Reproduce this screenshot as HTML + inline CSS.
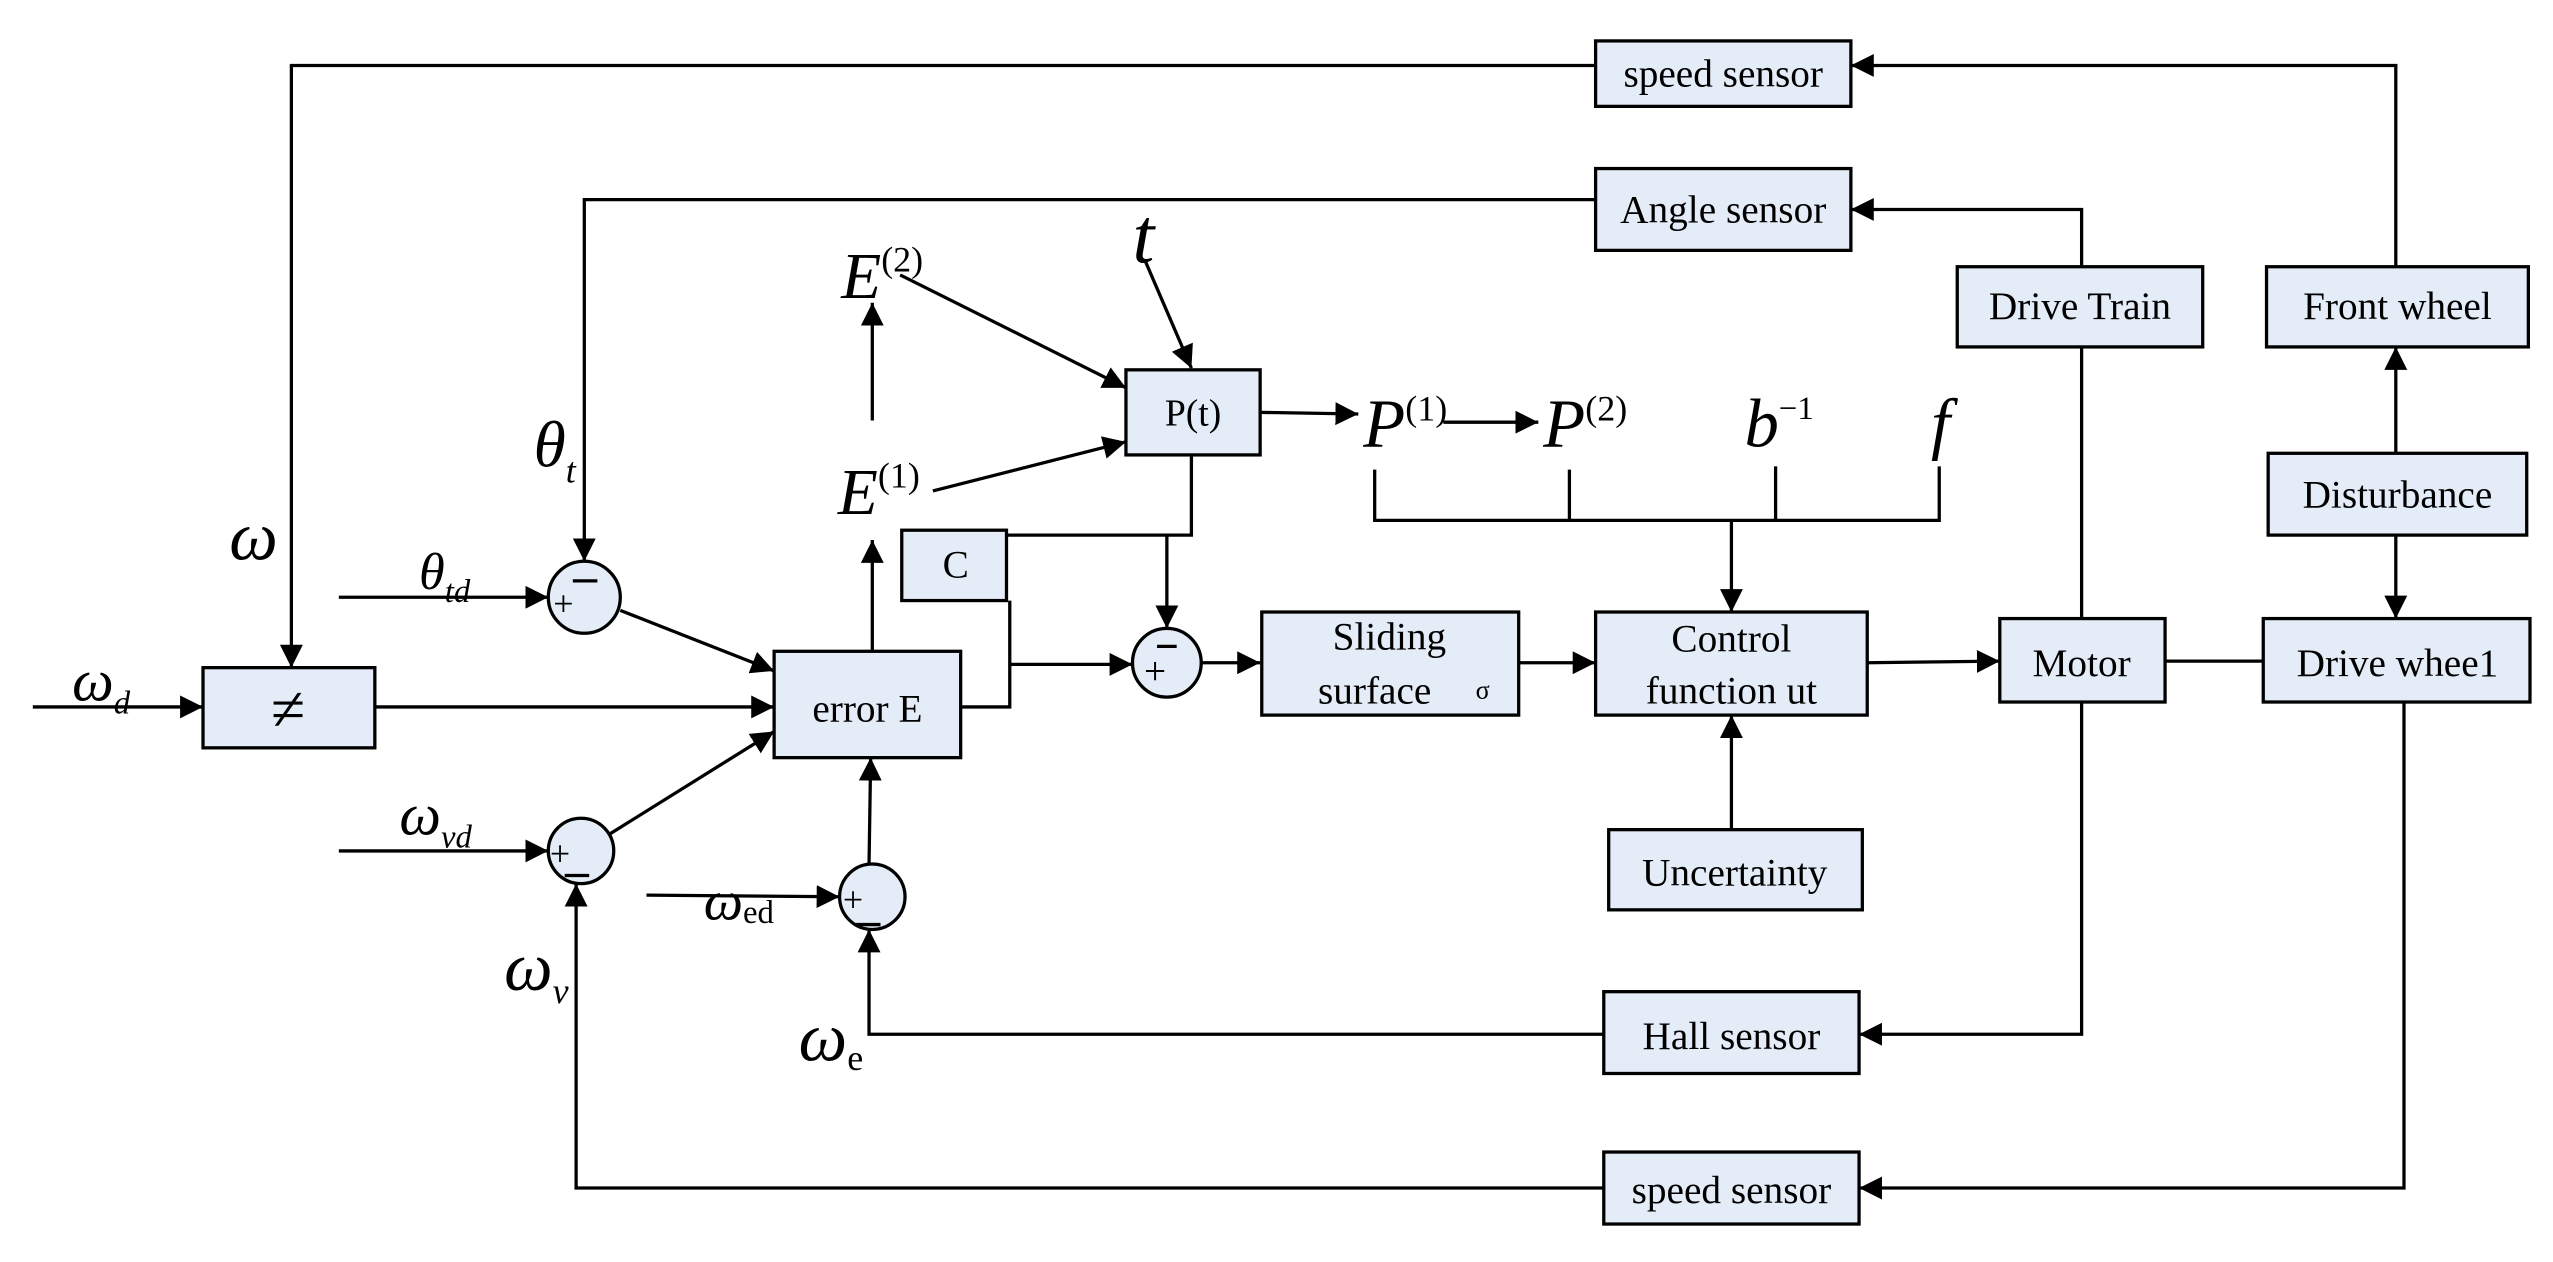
<!DOCTYPE html>
<html><head><meta charset="utf-8"><style>html,body{margin:0;padding:0;background:#fff}svg{display:block}</style></head>
<body>
<svg width="2553" height="1262" viewBox="0 0 1560 771.2" xmlns="http://www.w3.org/2000/svg" font-family="Liberation Serif, serif">
<defs><marker id="a" viewBox="0 0 10 10" refX="10" refY="5" markerWidth="14" markerHeight="14" markerUnits="userSpaceOnUse" orient="auto"><path d="M0,0L10,5L0,10z" fill="#000"/></marker></defs>
<g fill="#e4ecf7" stroke="#000" stroke-width="2">
<rect x="975" y="25" width="156" height="40"/>
<rect x="975" y="103" width="156" height="50"/>
<rect x="124" y="408" width="105" height="49"/>
<rect x="473" y="398" width="114" height="65"/>
<rect x="688" y="226" width="82" height="52"/>
<rect x="551" y="324" width="64" height="43"/>
<rect x="771" y="374" width="157" height="63"/>
<rect x="975" y="374" width="166" height="63"/>
<rect x="983" y="507" width="155" height="49"/>
<rect x="1222" y="378" width="101" height="51"/>
<rect x="1383" y="378" width="163" height="51"/>
<rect x="1196" y="163" width="150" height="49"/>
<rect x="1385" y="163" width="160" height="49"/>
<rect x="1386" y="277" width="158" height="50"/>
<rect x="980" y="606" width="156" height="50"/>
<rect x="980" y="704" width="156" height="44"/>
<circle cx="357" cy="365" r="22"/>
<circle cx="355" cy="520" r="20"/>
<circle cx="533" cy="548" r="20"/>
<circle cx="713" cy="405" r="21"/>
</g>
<g fill="none" stroke="#000" stroke-width="2">
<path d="M975,40H178V408" marker-end="url(#a)"/>
<path d="M20,432H124" marker-end="url(#a)"/>
<path d="M229,432H473" marker-end="url(#a)"/>
<path d="M975,122H357V343" marker-end="url(#a)"/>
<path d="M207,365H335" marker-end="url(#a)"/>
<path d="M379,373L473,410" marker-end="url(#a)"/>
<path d="M207,520H335" marker-end="url(#a)"/>
<path d="M372,510L473,447" marker-end="url(#a)"/>
<path d="M980,726H352V540" marker-end="url(#a)"/>
<path d="M395,547L513,548" marker-end="url(#a)"/>
<path d="M531,528L532,463" marker-end="url(#a)"/>
<path d="M980,632H531V568" marker-end="url(#a)"/>
<path d="M533,398V330" marker-end="url(#a)"/>
<path d="M533,257V185" marker-end="url(#a)"/>
<path d="M550,168L688,237" marker-end="url(#a)"/>
<path d="M570,300L688,270" marker-end="url(#a)"/>
<path d="M700,160L728,225" marker-end="url(#a)"/>
<path d="M770,252L830,253" marker-end="url(#a)"/>
<path d="M882,258H940" marker-end="url(#a)"/>
<path d="M728,278V327H615"/>
<path d="M713,327V384" marker-end="url(#a)"/>
<path d="M587,432H617V367"/>
<path d="M617,406H692" marker-end="url(#a)"/>
<path d="M734,405H770" marker-end="url(#a)"/>
<path d="M928,405H975" marker-end="url(#a)"/>
<path d="M1141,405L1222,404" marker-end="url(#a)"/>
<path d="M1323,404H1383"/>
<path d="M1058,507V437" marker-end="url(#a)"/>
<path d="M840,287V318H1185V285M959,287V318M1085,285V318"/>
<path d="M1058,318V374" marker-end="url(#a)"/>
<path d="M1272,163V128H1131" marker-end="url(#a)"/>
<path d="M1272,212V378"/>
<path d="M1272,429V632H1136" marker-end="url(#a)"/>
<path d="M1464,163V40H1131" marker-end="url(#a)"/>
<path d="M1464,277V212" marker-end="url(#a)"/>
<path d="M1464,327V378" marker-end="url(#a)"/>
<path d="M1469,429V726H1136" marker-end="url(#a)"/>
<path d="M350,355H365M345,535H360M523,565H538M707,395H719" stroke-width="2"/>
</g>
<g font-size="24" text-anchor="middle" fill="#000">
<text x="1053" y="53">speed sensor</text>
<text x="1053" y="136">Angle sensor</text>
<text x="530" y="441">error E</text>
<text x="729" y="260" font-size="23">P(t)</text>
<text x="584" y="353">C</text>
<text x="849" y="397">Sliding</text>
<text x="840" y="430">surface</text>
<text x="906" y="427" font-size="16">σ</text>
<text x="1058" y="398">Control</text>
<text x="1058" y="430">function ut</text>
<text x="1060" y="541">Uncertainty</text>
<text x="1272" y="413">Motor</text>
<text x="1465" y="413">Drive whee1</text>
<text x="1271" y="195">Drive Train</text>
<text x="1465" y="195">Front wheel</text>
<text x="1465" y="310">Disturbance</text>
<text x="1058" y="641">Hall sensor</text>
<text x="1058" y="735">speed sensor</text>
<text x="176" y="446" font-size="38">≠</text>
</g>
<g font-size="22" fill="#000">
<text x="338" y="376">+</text>
<text x="336" y="529">+</text>
<text x="515" y="557">+</text>
<text x="699" y="418" font-size="24">+</text>
</g>
<g font-style="italic" fill="#000" font-size="42">
<text x="140" y="342">ω</text>
<text x="44" y="428" font-size="36">ω<tspan font-size="20" dy="8">d</tspan></text>
<text x="326" y="285" font-size="40">θ<tspan font-size="22" dy="10">t</tspan></text>
<text x="256" y="360" font-size="32">θ<tspan font-size="20" dy="8">td</tspan></text>
<text x="244" y="510" font-size="36">ω<tspan font-size="20" dy="8">vd</tspan></text>
<text x="308" y="605">ω<tspan font-size="22" dy="8">v</tspan></text>
<text x="430" y="562" font-size="34">ω<tspan font-size="20" dy="2" font-style="normal">ed</tspan></text>
<text x="488" y="648">ω<tspan font-size="22" dy="6" font-style="normal">e</tspan></text>
<text x="514" y="182" font-size="40">E<tspan font-size="22" dy="-16" font-style="normal">(2)</tspan></text>
<text x="512" y="314" font-size="40">E<tspan font-size="22" dy="-16" font-style="normal">(1)</tspan></text>
<text x="692" y="160" font-size="48">t</text>
<text x="833" y="273">P<tspan font-size="22" dy="-16" font-style="normal">(1)</tspan></text>
<text x="943" y="273">P<tspan font-size="22" dy="-16" font-style="normal">(2)</tspan></text>
<text x="1066" y="273">b<tspan font-size="20" dy="-17" font-style="normal">−1</tspan></text>
<text x="1180" y="273">f</text>
</g>
</svg>
</body></html>
